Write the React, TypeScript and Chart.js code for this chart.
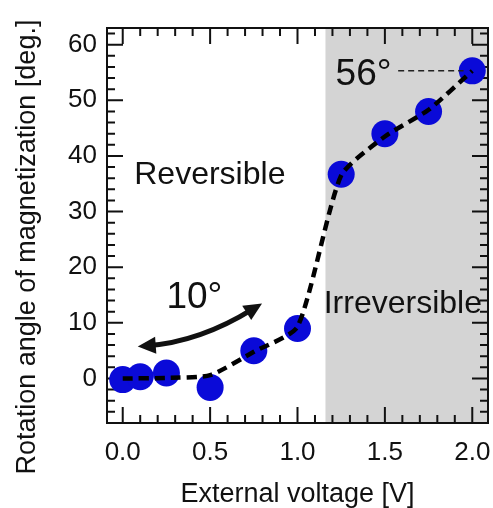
import React, { useEffect, useRef } from "react";
import { Chart, registerables } from "chart.js";

Chart.register(...registerables);

// ---- data ----
const voltage = [0, 0.1, 0.25, 0.5, 0.75, 1.0, 1.25, 1.5, 1.75, 2.0];
const rotationAngle = [-0.2, 0.3, 1.0, -1.6, 5.0, 9.0, 36.7, 44.0, 48.0, 55.3];

// dashed guide curve
const guideVoltage = [0, 0.25, 0.5, 0.75, 1.0, 1.25, 1.5, 1.75, 2.0];
const guideAngle = [0, 0.1, 0.6, 4.8, 9.3, 36.5, 43.5, 48.3, 55.3];

// ticks
const xTicks = [0, 0.5, 1.0, 1.5, 2.0];
const xMinorTicks = [0.1, 0.2, 0.3, 0.4, 0.6, 0.7, 0.8, 0.9, 1.1, 1.2, 1.3, 1.4, 1.6, 1.7, 1.8, 1.9];
const yTicks = [0, 10, 20, 30, 40, 50, 60];
const yMinorTicks = [-6, -4, -2, 2, 4, 6, 8, 12, 14, 16, 18, 22, 24, 26, 28, 32, 34, 36, 38, 42, 44, 46, 48, 52, 54, 56, 58, 62];

// annotations
const irreversibleFrom = 1.16;
const reversibleLabel = "Reversible";
const irreversibleLabel = "Irreversible";
const swingLabel = "10°";
const maxLabel = "56°";
const maxAngle = 55.3;

const xTitle = "External voltage [V]";
const yTitle = "Rotation angle of magnetization [deg.]";

const FONT = '"Liberation Sans", Arial, Helvetica, sans-serif';
const INK = "#111111";

const decor = {
  id: "decor",
  beforeDatasetsDraw(chart: any) {
    const { ctx, chartArea: a, scales } = chart;
    const x = scales.x;
    const y = scales.y;
    ctx.save();
    // irreversible region
    const gx = x.getPixelForValue(irreversibleFrom);
    ctx.fillStyle = "#d4d4d4";
    ctx.fillRect(gx, a.top, a.right - gx, a.bottom - a.top);

    // inward ticks on all four sides
    ctx.strokeStyle = INK;
    ctx.lineWidth = 2;
    ctx.beginPath();
    const xt = (vals: number[], len: number) => {
      vals.forEach((v) => {
        const p = x.getPixelForValue(v);
        ctx.moveTo(p, a.bottom);
        ctx.lineTo(p, a.bottom - len);
        ctx.moveTo(p, a.top);
        ctx.lineTo(p, a.top + len);
      });
    };
    const yt = (vals: number[], len: number) => {
      vals.forEach((v) => {
        const p = y.getPixelForValue(v);
        ctx.moveTo(a.left, p);
        ctx.lineTo(a.left + len, p);
        ctx.moveTo(a.right, p);
        ctx.lineTo(a.right - len, p);
      });
    };
    xt(xTicks, 16);
    xt(xMinorTicks, 8);
    yt(yTicks, 16);
    yt(yMinorTicks, 8);
    ctx.stroke();
    ctx.strokeRect(a.left, a.top, a.right - a.left, a.bottom - a.top);
    ctx.restore();
  },
  afterDatasetsDraw(chart: any) {
    const { ctx, scales } = chart;
    const x = scales.x;
    const y = scales.y;
    const px = (v: number) => x.getPixelForValue(v);
    const py = (v: number) => y.getPixelForValue(v);
    ctx.save();
    ctx.fillStyle = INK;
    ctx.textAlign = "left";
    ctx.textBaseline = "alphabetic";

    ctx.font = `32px ${FONT}`;
    ctx.fillText(reversibleLabel, px(0.066), py(35));
    ctx.fillText(irreversibleLabel, px(1.15), py(11.7));

    ctx.font = `37px ${FONT}`;
    ctx.fillText(swingLabel, px(0.25), py(12.75));
    ctx.fillText(maxLabel, px(1.218), py(52.8));

    // dashed leader to the 56° point
    ctx.strokeStyle = "#222";
    ctx.lineWidth = 1.5;
    ctx.setLineDash([6, 4]);
    ctx.beginPath();
    ctx.moveTo(px(1.576), py(maxAngle));
    ctx.lineTo(px(1.95), py(maxAngle));
    ctx.stroke();
    ctx.setLineDash([]);

    // double-headed curved arrow
    const L = { x: px(0.086), y: py(5.75) };
    const R = { x: px(0.797), y: py(13.5) };
    const C = { x: px(0.441), y: py(6.56) };
    const head = (tip: any, from: any) => {
      const dx = tip.x - from.x;
      const dy = tip.y - from.y;
      const d = Math.hypot(dx, dy);
      const ux = dx / d;
      const uy = dy / d;
      const len = 18;
      const hw = 8.5;
      const bx = tip.x - ux * len;
      const by = tip.y - uy * len;
      ctx.beginPath();
      ctx.moveTo(tip.x, tip.y);
      ctx.lineTo(bx - uy * hw, by + ux * hw);
      ctx.lineTo(bx + uy * hw, by - ux * hw);
      ctx.closePath();
      ctx.fill();
    };
    ctx.strokeStyle = INK;
    ctx.lineWidth = 5;
    ctx.beginPath();
    const inset = (tip: any, from: any, t: number) => ({ x: tip.x + (from.x - tip.x) * t, y: tip.y + (from.y - tip.y) * t });
    const Ls = inset(L, C, 0.15);
    const Rs = inset(R, C, 0.15);
    ctx.moveTo(Ls.x, Ls.y);
    ctx.quadraticCurveTo(C.x, C.y, Rs.x, Rs.y);
    ctx.stroke();
    ctx.fillStyle = INK;
    head(L, C);
    head(R, C);
    ctx.restore();
  },
  afterDraw(chart: any) {
    const { ctx } = chart;
    ctx.save();
    ctx.fillStyle = INK;
    ctx.font = `27px ${FONT}`;
    ctx.textAlign = "center";
    ctx.textBaseline = "alphabetic";
    ctx.translate(35, 247);
    ctx.rotate(-Math.PI / 2);
    ctx.fillText(yTitle, 0, 0);
    ctx.restore();
  },
};

export default function App() {
  const ref = useRef<HTMLCanvasElement>(null);
  useEffect(() => {
    if (!ref.current) return;
    const chart = new Chart(ref.current, {
      type: "scatter",
      data: {
        datasets: [
          {
            label: "guide",
            data: guideVoltage.map((v, i) => ({ x: v, y: guideAngle[i] })),
            showLine: true,
            borderColor: "#000000",
            borderWidth: 4.5,
            borderDash: [10, 6],
            tension: 0.2,
            pointRadius: 0,
            order: 1,
          },
          {
            label: "Rotation angle",
            data: voltage.map((v, i) => ({ x: v, y: rotationAngle[i] })),
            backgroundColor: "#0a0ad8",
            borderColor: "#0a0ad8",
            borderWidth: 0,
            pointRadius: 13.5,
            order: 2,
          },
        ],
      },
      options: {
        animation: false,
        responsive: false,
        layout: { autoPadding: false, padding: { left: 0, top: 28, right: 5, bottom: 0 } },
        plugins: { legend: { display: false }, tooltip: { enabled: false } },
        scales: {
          x: {
            type: "linear",
            min: -0.09,
            max: 2.09,
            afterBuildTicks: (s: any) => {
              s.ticks = xTicks.map((v) => ({ value: v }));
            },
            afterFit: (s: any) => {
              s.height = 85;
              s.paddingLeft = 0;
              s.paddingRight = 0;
            },
            grid: { display: false, drawTicks: false },
            border: { display: false },
            ticks: {
              color: INK,
              padding: 14,
              font: { size: 26, family: FONT },
              callback: (v: any) => Number(v).toFixed(1),
              maxRotation: 0,
            },
            title: {
              display: true,
              text: xTitle,
              color: INK,
              font: { size: 27, family: FONT, lineHeight: 1 },
              padding: { top: 0, bottom: 0 },
            },
          },
          y: {
            type: "linear",
            min: -8,
            max: 63,
            afterBuildTicks: (s: any) => {
              s.ticks = yTicks.map((v) => ({ value: v }));
            },
            afterFit: (s: any) => {
              s.width = 107;
              s.paddingTop = 0;
              s.paddingBottom = 0;
            },
            grid: { display: false, drawTicks: false },
            border: { display: false },
            ticks: {
              color: INK,
              padding: 10,
              font: { size: 26, family: FONT },
            },
          },
        },
      },
      plugins: [decor],
    });
    return () => chart.destroy();
  }, []);
  return (
    <div style={{ position: "absolute", left: 0, top: 0, width: 493, height: 508, background: "#fff" }}>
      <canvas ref={ref} width={493} height={508} style={{ display: "block" }} />
    </div>
  );
}
